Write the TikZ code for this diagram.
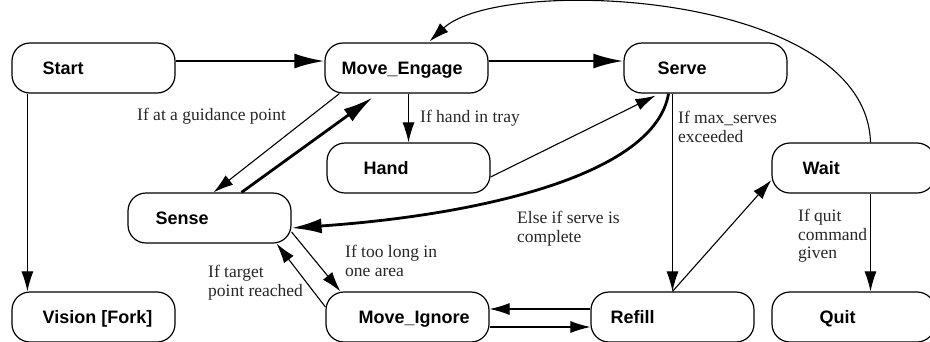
\documentclass[tikz,border=0pt]{standalone}
\usepackage{fontspec}
\setmainfont{Liberation Serif}
\setsansfont{Liberation Sans}
\usetikzlibrary{arrows.meta}
\tikzset{
  state/.style={draw, line width=1.2pt, rounded corners=18pt, minimum width=163pt, minimum height=50pt, inner sep=0pt},
  stxt/.style={font=\sffamily\bfseries\fontsize{18}{20}\selectfont, anchor=base west, inner sep=0pt},
  cond/.style={font=\fontsize{17.5}{18.5}\selectfont, align=left, anchor=north west, inner sep=0pt, text=black!85},
  tarr/.style={line width=1.1pt, -{Latex[length=20pt,width=12pt]}},
  karr/.style={line width=2.8pt, -{Latex[length=30pt,width=15pt]}},
}
\begin{document}
\begin{tikzpicture}[x=1pt,y=-1pt]
\useasboundingbox (0,0) rectangle (930,341);
% states
\node[state] (start)   at (93.5,68)  {};
\node[state] (moveeng) at (406.5,68) {};
\node[state] (serve)   at (705.5,68) {};
\node[state] (hand)    at (408.5,168) {};
\node[state] (sense)   at (209.5,218) {};
\node[state] (wait)    at (853.5,168) {};
\node[state] (vision)  at (93.5,317) {};
\node[state] (moveign) at (407.5,317) {};
\node[state] (refill)  at (672.5,317) {};
\node[state] (quit)    at (853.5,317) {};
% state names
\node[stxt] (tstart)   at ([xshift=31pt,yshift=-6.5pt]start.west)   {Start};
\node[stxt] (tmoveeng) at ([xshift=17pt,yshift=-6.5pt]moveeng.west) {Move\_Engage};
\node[stxt] (tserve)   at ([xshift=34pt,yshift=-6.5pt]serve.west)   {Serve};
\node[stxt] (thand)    at ([xshift=37pt,yshift=-6.5pt]hand.west)    {Hand};
\node[stxt] (tsense)   at ([xshift=28pt,yshift=-6.5pt]sense.west)   {Sense};
\node[stxt] (twait)    at ([xshift=31pt,yshift=-6.5pt]wait.west)    {Wait};
\node[stxt] (tvision)  at ([xshift=31pt,yshift=-6.5pt]vision.west)  {Vision [Fork]};
\node[stxt] (tmoveign) at ([xshift=33pt,yshift=-6.5pt]moveign.west) {Move\_Ignore};
\node[stxt] (trefill)  at ([xshift=20pt,yshift=-6.5pt]refill.west)  {Refill};
\node[stxt] (tquit)    at ([xshift=48pt,yshift=-6.5pt]quit.west)    {Quit};
% connectors
\draw[karr] ([yshift=7pt]start.east) -- ([yshift=7pt]moveeng.west);
\draw[karr] ([yshift=7pt]moveeng.east) -- ([yshift=7pt]serve.west);
\draw[tarr] ([xshift=16pt]start.south west) -- ([xshift=16pt]vision.north west);
\draw[tarr] (hand.north |- moveeng.south) -- (hand.north);
\draw[tarr] ([xshift=15pt]moveeng.south west) -- ([xshift=4pt]sense.north);
\draw[karr] ([xshift=32pt]sense.north) -- ([xshift=-34pt,yshift=-4pt]moveeng.south);
\draw[tarr] ([yshift=-9pt]hand.east) -- ([xshift=-50pt,yshift=-2pt]serve.south);
\draw[karr] ([xshift=-37pt]serve.south) .. controls (655,175) and (480,215) .. ([yshift=-10pt]sense.east);
\draw[tarr] ([yshift=-14pt]sense.east) -- ([xshift=15pt]moveign.north west);
\draw[tarr] ([yshift=10pt]moveign.west) -- ([xshift=-15pt]sense.south east);
\draw[tarr] ([yshift=8pt]refill.west) -- ([yshift=8pt]moveign.east);
\draw[tarr] ([yshift=-10pt]moveign.east) -- ([yshift=-10pt]refill.west);
\draw[tarr] (refill.north |- serve.south) -- (refill.north);
\draw[tarr] (refill.north) -- ([yshift=-12pt]wait.west);
\draw[tarr] ([xshift=17pt]wait.south) -- ([xshift=17pt]quit.north);
\draw[tarr] ([xshift=17pt]wait.north) .. controls (866,-10) and (500,-25) .. ([xshift=23pt,yshift=1pt]moveeng.north);
% condition labels
\node[cond] (lguid)   at (137,108) {If at a guidance point};
\node[cond] (lhand)   at (420,110) {If hand in tray};
\node[cond] (lmax)    at (678,111) {If max\_serves\\exceeded};
\node[cond] (lelse)   at (517,211) {Else if serve is\\complete};
\node[cond] (llong)   at (345,245) {If too long in\\one area};
\node[cond] (ltarget) at (208,265) {If target\\point reached};
\node[cond] (lquit)   at (798,209) {If quit\\command\\given};
\end{tikzpicture}
\end{document}
